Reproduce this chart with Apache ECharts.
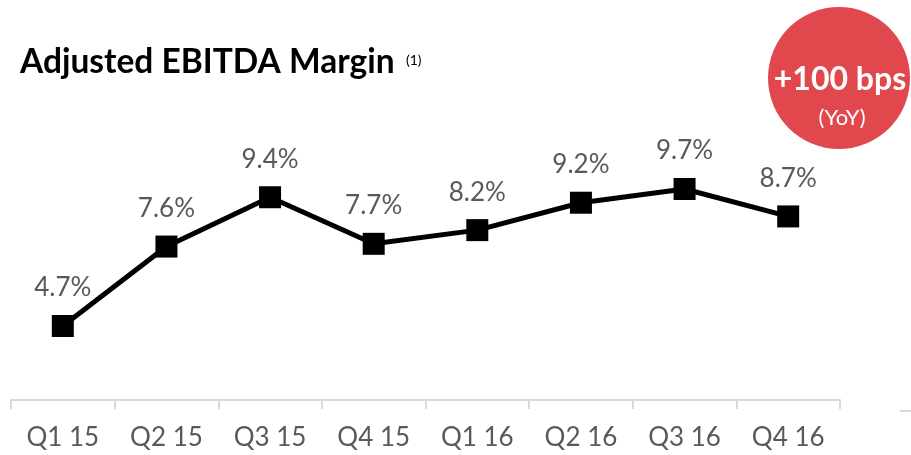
<!DOCTYPE html>
<html><head><meta charset="utf-8">
<script src="https://cdn.jsdelivr.net/npm/echarts@6/dist/echarts.min.js"></script>
<style>html,body{margin:0;padding:0;background:#fff}#c{width:911px;height:455px}</style>
</head><body><div id="c"></div>
<script>
const categories = ["Q1 15","Q2 15","Q3 15","Q4 15","Q1 16","Q2 16","Q3 16","Q4 16"];
const margin = [4.7, 7.6, 9.4, 7.7, 8.2, 9.2, 9.7, 8.7];
const titleText = "Adjusted EBITDA Margin";
const badgeMain = "+100 bps";
const badgeSub = "(YoY)";

const chart = echarts.init(document.getElementById('c'));
chart.setOption({
  animation: false,
  backgroundColor: '#fff',
  grid: { left: 11, right: 71, top: 126, bottom: 55 },
  xAxis: {
    type: 'category', data: categories, boundaryGap: true,
    axisLine: { lineStyle: { color: '#d9d9d9', width: 2 } },
    axisTick: { show: true, length: 9, lineStyle: { color: '#d9d9d9', width: 2 } },
    axisLabel: { color: '#595959', fontFamily: 'Lato', fontSize: 26, margin: 25 }
  },
  yAxis: { type: 'value', min: 2, max: 12, show: false, splitLine: { show: false } },
  series: [{
    type: 'line', data: margin,
    symbol: 'rect', symbolSize: 22,
    lineStyle: { color: '#000', width: 5 },
    itemStyle: { color: '#000' },
    label: {
      show: true, position: 'top', distance: 14,
      formatter: p => p.value.toFixed(1) + '%',
      color: '#595959', fontFamily: 'Lato', fontSize: 26
    }
  }],
  graphic: [
    { type: 'text', x: 20, y: 62, style: { text: titleText, font: 'bold 33.5px Lato', fill: '#000', verticalAlign: 'middle' } },
    { type: 'text', x: 406, y: 60, style: { text: '(1)', font: '14px Lato', fill: '#000', verticalAlign: 'middle' } },
    { type: 'circle', shape: { cx: 839, cy: 78, r: 71 }, style: { fill: '#E0484D' } },
    { type: 'text', x: 840, y: 80, style: { text: badgeMain, font: 'bold 32px Lato', fill: '#fff', align: 'center', verticalAlign: 'middle' } },
    { type: 'text', x: 842, y: 118, style: { text: badgeSub, font: '22px Lato', fill: '#fff', align: 'center', verticalAlign: 'middle' } },
    { type: 'line', shape: { x1: 900, y1: 411, x2: 911, y2: 411 }, style: { stroke: '#d9d9d9', lineWidth: 2 } }
  ]
});
</script></body></html>
